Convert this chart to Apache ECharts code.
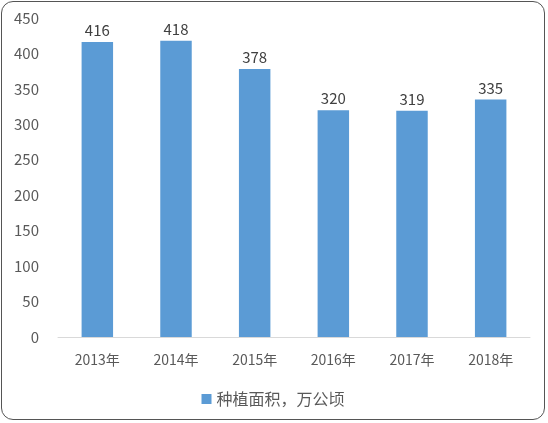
<!DOCTYPE html>
<html>
<head>
<meta charset="utf-8">
<script src="https://cdn.jsdelivr.net/npm/echarts@6/dist/echarts.min.js"></script>
<style>
  html, body { margin: 0; padding: 0; background: #fff; }
  #box { position: absolute; left: 1px; top: 1px; width: 544px; height: 419px;
         border: 1px solid #555; border-radius: 12px; box-sizing: border-box; overflow: hidden; }
  #my { width: 100%; height: 100%; }
</style>
</head>
<body>
<div id="box"><div id="my"></div></div>
<script>
var years = ['2013年', '2014年', '2015年', '2016年', '2017年', '2018年'];
var area = [416, 418, 378, 320, 319, 335];
var seriesName = '种植面积，万公顷';

var myChart = echarts.init(document.getElementById('my'));

// 图表配置
var option = {
	animation: false,
	textStyle: { fontFamily: '"Noto Sans CJK SC", "Open Sans", sans-serif' },
	grid: { left: 56, right: 14, top: 16, bottom: 82 },
	legend: {
		data: [seriesName],
		bottom: 7,
		icon: 'rect',
		itemWidth: 10,
		itemHeight: 10,
		itemGap: 4,
		textStyle: { color: '#595959', fontSize: 16 }
	},
	xAxis: {
		type: 'category',
		data: years,
		axisLine: { lineStyle: { color: '#d9d9d9' } },
		axisTick: { show: false },
		axisLabel: { color: '#595959', fontSize: 14, margin: 16 }
	},
	yAxis: {
		type: 'value',
		min: 0,
		max: 450,
		interval: 50,
		splitLine: { show: false },
		axisLine: { show: false },
		axisTick: { show: false },
		axisLabel: { color: '#595959', fontSize: 15, margin: 19 }
	},
	series: [{
		name: seriesName,
		type: 'bar',
		data: area,
		barCategoryGap: '60%',
		itemStyle: { color: '#5b9bd5' },
		label: { show: true, position: 'top', color: '#404040', fontSize: 15, distance: 4 }
	}]
};

myChart.setOption(option);
</script>
</body>
</html>
